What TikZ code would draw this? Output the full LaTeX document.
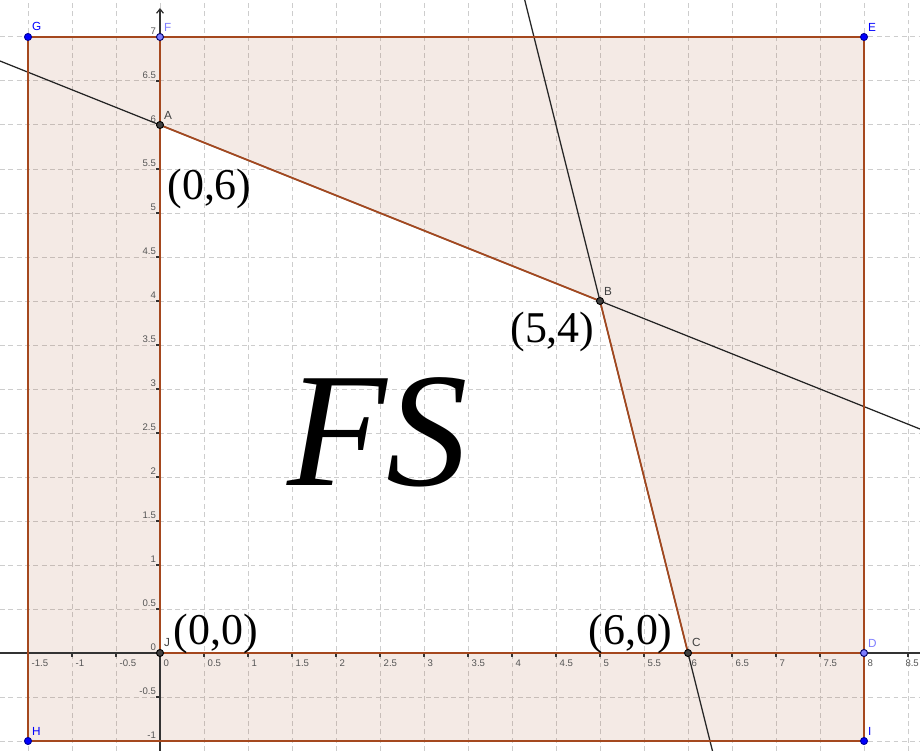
\documentclass[tikz,border=0pt]{standalone}
\usepackage{fontspec}
\setmainfont{Liberation Serif}
\newfontfamily\ggb{Liberation Sans}
\usetikzlibrary{arrows.meta}
\definecolor{brn}{RGB}{153,51,0}
\definecolor{edgec}{RGB}{165,72,30}
\definecolor{gridc}{RGB}{205,205,205}
\definecolor{freeblue}{RGB}{0,0,255}
\definecolor{pathblue}{RGB}{125,125,255}
\definecolor{ptgray}{RGB}{64,64,64}
\definecolor{ticktext}{RGB}{85,85,85}
\begin{document}
\begin{tikzpicture}[x=1cm,y=1cm,
  gridline/.style={gridc, line width=0.32pt, dash pattern=on 1.6pt off 1.1pt},
  axisline/.style={black!80, line width=0.4pt},
  edgeline/.style={edgec, line width=0.55pt},
  conline/.style={black!85, line width=0.4pt},
  ticklab/.style={inner sep=0pt, text=ticktext, font=\ggb\fontsize{3.1}{3.5}\selectfont},
  ptbase/.style={circle, inner sep=0pt, minimum size=0.8mm, line width=0.3pt},
  ptdep/.style={ptbase, fill=ptgray, draw=black},
  ptfree/.style={ptbase, fill=freeblue, draw=blue!60!black},
  ptpath/.style={ptbase, fill=pathblue, draw=blue!40!black},
  ptlab/.style={inner sep=0pt, anchor=south west, font=\ggb\fontsize{3.8}{4.5}\selectfont},
  biglab/.style={inner sep=0pt, anchor=base, font=\fontsize{14.2}{16}\selectfont}
]
\useasboundingbox (-1.8182,-1.1136) rectangle (8.6364,7.4205);
\fill[white] (-1.8182,-1.1136) rectangle (8.6364,7.4205);

% grid
\foreach \i in {-3,...,17} \draw[gridline] (\i/2,-1.1136) -- (\i/2,7.4205);
\foreach \j in {-2,...,14} \draw[gridline] (-1.8182,\j/2) -- (8.6364,\j/2);

% key points
\coordinate (g) at (-1.5,7);
\coordinate (f) at (0,7);
\coordinate (e) at (8,7);
\coordinate (a) at (0,6);
\coordinate (b) at (5,4);
\coordinate (j) at (0,0);
\coordinate (c) at (6,0);
\coordinate (d) at (8,0);
\coordinate (h) at (-1.5,-1);
\coordinate (i) at (8,-1);
% ends of the lines and axes
\coordinate (l1) at (-1.8182,6.7273);
\coordinate (l2) at (8.6364,2.5455);
\coordinate (m1) at (4.1449,7.4205);
\coordinate (m2) at (6.2784,-1.1136);
\coordinate (xl) at (-1.8182,0);
\coordinate (xr) at (8.6364,0);
\coordinate (yb) at (0,-1.1136);
\coordinate (yt) at (0,7.33);

% shaded region
\fill[brn, fill opacity=0.1, even odd rule] (g) -- (e) -- (i) -- (h) -- cycle (j) -- (a) -- (b) -- (c) -- cycle;

% axes
\draw[axisline] (xl) -- (xr);
\draw[axisline, -{Straight Barb[length=1.4pt,width=2.2pt]}] (yb) -- (yt);

% ticks and tick labels
\foreach \v in {-1.5,-1,-0.5,0,0.5,1,1.5,2,2.5,3,3.5,4,4.5,5,5.5,6,6.5,7,7.5,8,8.5}{
  \draw[axisline] (\v,0) -- (\v,-0.045);
}
\foreach \v in {-1.5,-1,-0.5,0,0.5,1,1.5,2,2.5,3,3.5,4,4.5,5,5.5,6,6.5,7,7.5,8}{
  \node[ticklab, anchor=north west] at (\v+0.035,-0.075) {\v};
}
\node[ticklab, anchor=north east] (x85) at (8.63,-0.075) {8.5};
\foreach \v in {-1,-0.5,0,0.5,1,1.5,2,2.5,3,3.5,4,4.5,5,5.5,6,6.5,7}{
  \draw[axisline] (0,\v) -- (-0.045,\v);
  \node[ticklab, anchor=south east] at (-0.04,\v+0.02) {\v};
}

% constraint lines
\draw[conline] (l1) -- (l2);
\draw[conline] (m1) -- (m2);

% boundary edges
\draw[edgeline] (g) -- (e) -- (i) -- (h) -- cycle;
\draw[edgeline] (f) -- (j) -- (d);
\draw[edgeline] (a) -- (b) -- (c);

% points
\node[ptfree] (pG) at (g) {};
\node[ptpath] (pF) at (f) {};
\node[ptfree] (pE) at (e) {};
\node[ptdep] (pA) at (a) {};
\node[ptdep] (pB) at (b) {};
\node[ptdep] (pJ) at (j) {};
\node[ptdep] (pC) at (c) {};
\node[ptpath] (pD) at (d) {};
\node[ptfree] (pH) at (h) {};
\node[ptfree] (pI) at (i) {};

% point labels
\node[ptlab, text=freeblue] (tG) at ([shift={(0.04,0.06)}]g) {G};
\node[ptlab, text=pathblue] (tF) at ([shift={(0.04,0.06)}]f) {F};
\node[ptlab, text=freeblue] (tE) at ([shift={(0.04,0.06)}]e) {E};
\node[ptlab, text=ptgray] (tA) at ([shift={(0.04,0.06)}]a) {A};
\node[ptlab, text=ptgray] (tB) at ([shift={(0.04,0.06)}]b) {B};
\node[ptlab, text=ptgray] (tJ) at ([shift={(0.04,0.06)}]j) {J};
\node[ptlab, text=ptgray] (tC) at ([shift={(0.04,0.06)}]c) {C};
\node[ptlab, text=pathblue] (tD) at ([shift={(0.04,0.06)}]d) {D};
\node[ptlab, text=freeblue] (tH) at ([shift={(0.04,0.06)}]h) {H};
\node[ptlab, text=freeblue] (tI) at ([shift={(0.04,0.06)}]i) {I};

% big labels
\node[biglab] (c06) at (0.5625,5.148) {(0,6)};
\node[biglab] (c54) at (4.460,3.534) {(5,4)};
\node[biglab] (c00) at (0.633,0.091) {(0,0)};
\node[biglab] (c60) at (5.347,0.091) {(6,0)};
\node[inner sep=0pt, anchor=base, font=\fontsize{52.7}{60}\selectfont\itshape] (fs) at (2.472,1.909) {FS};
\end{tikzpicture}
\end{document}
